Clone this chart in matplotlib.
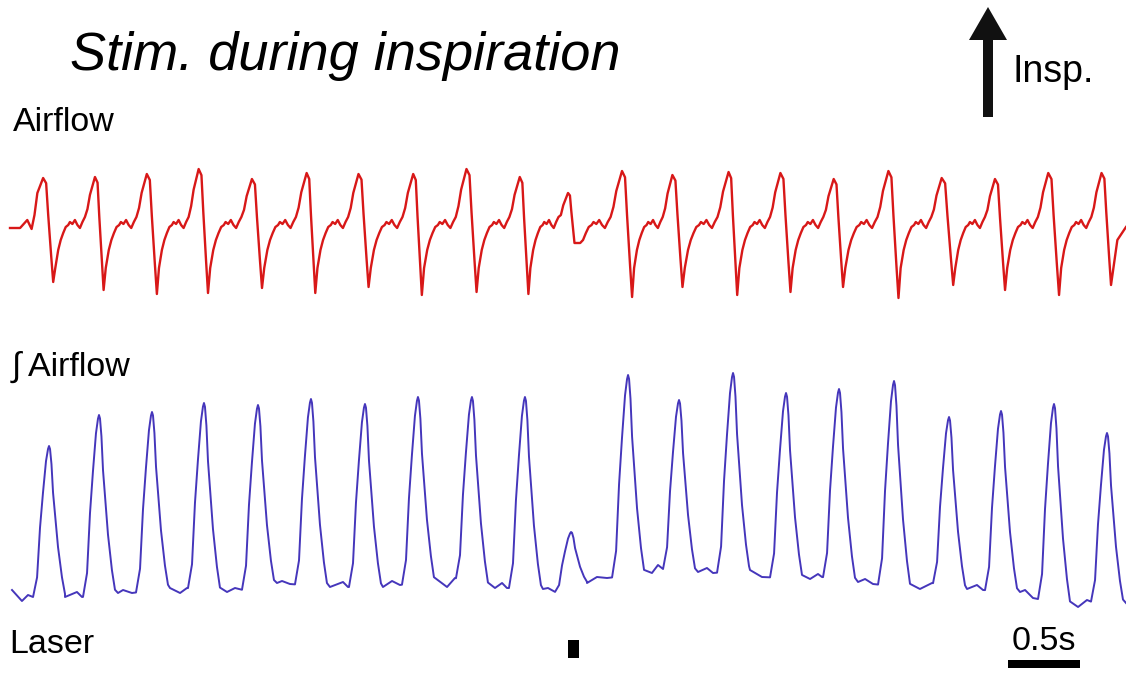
import numpy as np
import matplotlib

matplotlib.use("Agg")
import matplotlib.pyplot as plt
from matplotlib.patches import FancyArrow

# --- airflow (red), one entry per breath: inspiratory peak and expiratory trough
red_peak_t = [0.23, 0.59, 0.95, 1.31, 1.68, 2.06, 2.42, 2.80, 3.17, 3.54, 3.875,
              4.25, 4.60, 4.99, 5.35, 5.72, 6.10, 6.47, 6.84, 7.21, 7.58]
red_peak_v = [5.0, 5.1, 5.4, 5.9, 4.9, 5.5, 5.4, 5.4, 5.9, 5.1, 3.5,
              5.7, 5.3, 5.6, 5.5, 4.9, 5.7, 5.0, 4.9, 5.5, 5.5]
red_trough_t = [0.30, 0.65, 1.02, 1.375, 1.75, 2.12, 2.49, 2.86, 3.24, 3.60, 3.92,
                4.32, 4.67, 5.05, 5.42, 5.785, 6.17, 6.55, 6.91, 7.285, 7.646]
red_trough_v = [-5.4, -6.2, -6.6, -6.5, -6.0, -6.5, -5.9, -6.7, -6.4, -6.6, -1.5,
                -6.9, -5.9, -6.7, -6.4, -5.9, -7.0, -5.7, -6.2, -6.7, -5.7]
# shape of one breath
red_fall_f = [0.3, 0.5, 0.8]
red_fall_a = [0.05, 0.35, 0.75]
red_rec_f = [0.05, 0.12, 0.18, 0.24, 0.30, 0.36, 0.40, 0.46, 0.52, 0.58,
             0.64, 0.70, 0.76]
red_rec_v = [-4.0, -2.2, -1.2, -0.5, 0.1, 0.3, 0.6, 0.4, 0.8, 0.3,
             0.0, 0.6, 1.1]
red_rise_f = [0.82, 0.88]
red_rise_a = [0.37, 0.65]
red_lead_t = [0.0, 0.07, 0.12, 0.15, 0.17, 0.19]
red_lead_v = [0.0, 0.0, 0.8, -0.1, 1.3, 3.5]
red_tail_t = [7.69, 7.75]
red_tail_v = [-1.2, 0.1]

# --- integrated airflow (blue)
blue_peak_t = [0.271, 0.618, 0.986, 1.347, 1.722, 2.090, 2.465, 2.833, 3.208, 3.576, 3.896,
               4.292, 4.646, 5.021, 5.389, 5.757, 6.139, 6.521, 6.882, 7.250, 7.618]
blue_peak_v = [15.4, 18.5, 18.8, 19.7, 19.5, 20.1, 19.6, 20.3, 20.3, 20.3, 6.8,
               22.5, 20.0, 22.7, 20.7, 21.1, 21.9, 18.3, 18.9, 19.6, 16.7]
blue_base_t = [0.014, 0.083, 0.125, 0.16, 0.382, 0.465, 0.50, 0.75, 0.785, 0.847,
               1.111, 1.181, 1.229, 1.507, 1.5625, 1.618, 1.854, 1.889, 1.944,
               2.222, 2.3125, 2.347, 2.59, 2.653, 2.708, 2.931, 3.035, 3.09,
               3.368, 3.417, 3.451, 3.701, 3.736, 3.799, 4.007, 4.076, 4.146,
               4.458, 4.50, 4.535, 4.778, 4.840, 4.882, 5.139, 5.222,
               5.556, 5.611, 5.639, 5.889, 5.938, 5.993, 6.319, 6.403,
               6.646, 6.715, 6.757, 7.014, 7.049, 7.104, 7.417, 7.479, 7.514, 7.75]
blue_base_v = [1.0, -0.1, 0.5, 0.3, 0.3, 0.8, 0.3, 0.7, 1.0, 0.7,
               1.2, 0.7, 1.2, 0.8, 1.2, 1.0, 1.7, 1.9, 1.6,
               1.3, 1.8, 1.3, 1.3, 1.9, 1.5, 2.0, 1.3, 2.2,
               1.2, 1.7, 1.2, 1.1, 1.2, 0.7, 1.7, 2.3, 2.2,
               2.7, 3.5, 3.1, 2.8, 3.2, 2.7, 3.0, 2.3,
               2.1, 2.6, 2.3, 1.8, 2.1, 1.6, 1.1, 1.7,
               1.1, 1.5, 1.0, 0.8, 1.0, 0.2, -0.7, 0.0, -0.2, -0.3]
blue_shape_dt = [-0.111, -0.083, -0.0625, -0.042, -0.021, -0.007, 0.0,
                 0.007, 0.017, 0.028, 0.0625, 0.09, 0.111]
blue_shape_a = [0.0, 0.13, 0.46, 0.69, 0.90, 0.98, 1.0,
                0.98, 0.88, 0.69, 0.33, 0.13, 0.02]

laser_on, laser_off = 3.875, 3.95
scale_start, scale_len = 6.93, 0.5

W, H = 1126, 673
T0, T1 = -10 / 144, 1116 / 144


def band(top, bottom):
    # axes rectangle spanning the full width between two pixel rows
    return [0, 1 - bottom / H, 1, (bottom - top) / H]


def build_red():
    t, v = list(red_lead_t), list(red_lead_v)
    n = len(red_peak_t)
    for i in range(n):
        tp, vp = red_peak_t[i], red_peak_v[i]
        tt, vt = red_trough_t[i], red_trough_v[i]
        t.append(tp)
        v.append(vp)
        for f, a in zip(red_fall_f, red_fall_a):
            t.append(tp + f * (tt - tp))
            v.append(vp + a * (vt - vp))
        t.append(tt)
        v.append(vt)
        if i + 1 < n:
            nxt, nxt_v = red_peak_t[i + 1], red_peak_v[i + 1]
            for f, val in zip(red_rec_f, red_rec_v):
                t.append(tt + f * (nxt - tt))
                v.append(max(val, vt))
            for f, a in zip(red_rise_f, red_rise_a):
                t.append(tt + f * (nxt - tt))
                v.append(a * nxt_v)
    t += red_tail_t
    v += red_tail_v
    return np.array(t), np.array(v)


def build_blue():
    bt = np.array(blue_base_t)
    bv = np.array(blue_base_v)
    dt = np.array(blue_shape_dt)
    amp = np.array(blue_shape_a)
    keep = np.ones(len(bt), dtype=bool)
    ts, vs = [], []
    for tp, vp in zip(blue_peak_t, blue_peak_v):
        keep &= ~((bt > tp + dt[0]) & (bt < tp + dt[-1]))
        tt = tp + dt
        base = np.interp(tt, bt, bv)
        base0 = np.interp(tp, bt, bv)
        ts.append(tt)
        vs.append(base + amp * (vp - base0))
    ts.append(bt[keep])
    vs.append(bv[keep])
    t = np.concatenate(ts)
    v = np.concatenate(vs)
    order = np.argsort(t, kind="stable")
    return t[order], v[order]


fig = plt.figure(figsize=(W / 100, H / 100), dpi=100)

ax_red = fig.add_axes(band(150, 310))
rt, rv = build_red()
ax_red.plot(rt, rv, color="#d81818", lw=1.7)
ax_red.set_xlim(T0, T1)
ax_red.set_ylim(-8.2, 7.8)
ax_red.axis("off")

ax_blue = fig.add_axes(band(360, 615))
bt, bv = build_blue()
ax_blue.plot(bt, bv, color="#4536bb", lw=1.4)
ax_blue.set_xlim(T0, T1)
ax_blue.set_ylim(-1.5, 24)
ax_blue.axis("off")

# laser pulse and time scale bar
ax_bot = fig.add_axes(band(615, 673))
ax_bot.fill_between([laser_on, laser_off], 640, 658, color="black", lw=0)
ax_bot.fill_between([scale_start, scale_start + scale_len], 660, 668, color="black", lw=0)
ax_bot.set_xlim(T0, T1)
ax_bot.set_ylim(673, 615)
ax_bot.axis("off")

# arrow marking inspiration direction (pixel coordinates)
ax_ov = fig.add_axes([0, 0, 1, 1])
ax_ov.set_xlim(0, W)
ax_ov.set_ylim(H, 0)
ax_ov.axis("off")
ax_ov.add_patch(FancyArrow(988, 117, 0, -110, width=10, head_width=38,
                           head_length=33, length_includes_head=True,
                           color="#111111", lw=0))

fam = ["Liberation Sans", "DejaVu Sans"]
fig.text(0.062, 1 - 70 / H, "Stim. during inspiration", fontsize=39,
         style="italic", family=fam, va="baseline")
fig.text(13 / W, 1 - 131 / H, "Airflow", fontsize=24.5, family=fam, va="baseline")
fig.text(12 / W, 1 - 376 / H, "\u222b Airflow", fontsize=24.5, family=fam, va="baseline")
fig.text(9 / W, 1 - 653 / H, "Laser", fontsize=24.5, family=fam, va="baseline")
fig.text(1044 / W, 1 - 650 / H, "0.5s", fontsize=24.5, family=fam,
         va="baseline", ha="center")
fig.text(1013 / W, 1 - 82 / H, "Insp.", fontsize=27, family=fam, va="baseline")

fig.savefig("out.png", dpi=100)
plt.close(fig)
